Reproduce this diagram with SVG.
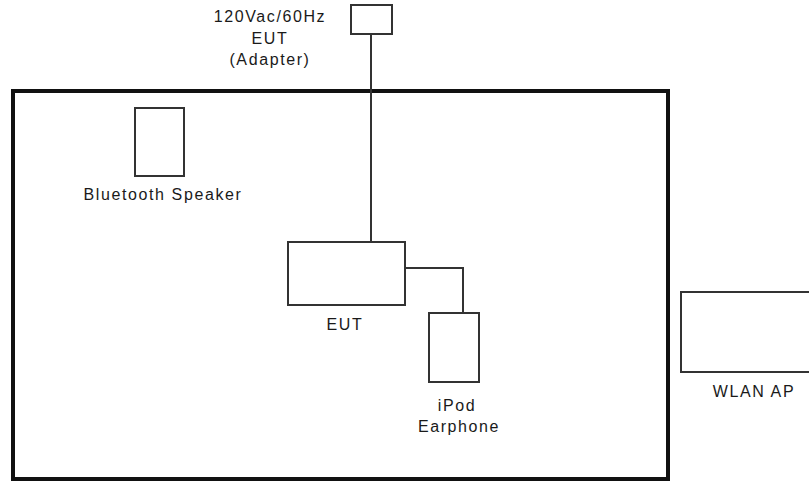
<svg xmlns="http://www.w3.org/2000/svg" width="809" height="482" viewBox="0 0 809 482">
<style>
.t{font-family:"Liberation Sans",Arial,sans-serif;font-size:16px;letter-spacing:1.6px;fill:#1a1a1a;text-anchor:middle}
.box{fill:#fff;stroke:#333;stroke-width:2}
.wire{fill:none;stroke:#333;stroke-width:2}
</style>
<rect width="809" height="482" fill="#fff"/>
<g id="room"><rect x="13" y="91" width="655" height="388" fill="none" stroke="#111" stroke-width="4"/></g>
<g id="connectors">
<path class="wire" d="M371 34 V242"/>
<path class="wire" d="M405 268 H463 V313"/>
</g>
<g id="adapter">
<rect class="box" x="351" y="5" width="41" height="29"/>
<text class="t" x="270" y="22">120Vac/60Hz</text>
<text class="t" x="270" y="44">EUT</text>
<text class="t" x="270" y="65">(Adapter)</text>
</g>
<g id="speaker">
<rect class="box" x="135" y="108" width="49" height="68"/>
<text class="t" x="163" y="200">Bluetooth Speaker</text>
</g>
<g id="eut">
<rect class="box" x="288" y="242" width="117" height="63"/>
<text class="t" x="345" y="330">EUT</text>
</g>
<g id="ipod">
<rect class="box" x="429" y="313" width="50" height="69"/>
<text class="t" x="457" y="411">iPod</text>
<text class="t" x="459" y="432">Earphone</text>
</g>
<g id="wlan">
<rect class="box" x="681" y="292" width="140" height="80"/>
<text class="t" x="754" y="397">WLAN AP</text>
</g>
</svg>
